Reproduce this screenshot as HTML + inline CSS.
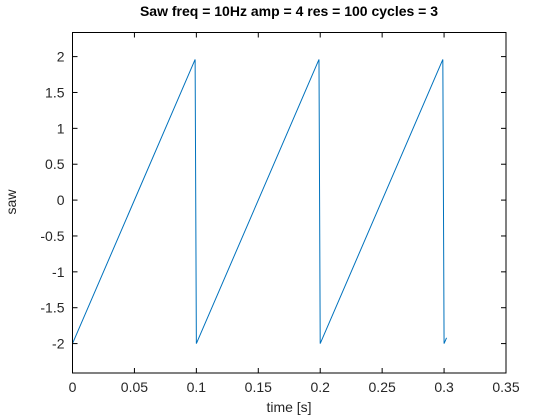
<!DOCTYPE html>
<html><head><meta charset="utf-8"><style>
html,body{margin:0;padding:0;background:#fff;}
svg{display:block;font-family:"Liberation Sans",sans-serif;}
</style></head><body>
<svg id="chart" width="560" height="420" viewBox="0 0 560 420" xmlns="http://www.w3.org/2000/svg">
<rect x="0" y="0" width="560" height="420" fill="#fff"/>
<text x="289" y="16" text-anchor="middle" font-size="14" font-weight="bold" fill="#000">Saw freq = 10Hz amp = 4 res = 100 cycles = 3</text>
<g id="ticks"></g>
<path id="series" fill="none" stroke="#0072bd" stroke-width="1"/>
<rect x="72.5" y="32.5" width="433.5" height="340.5" fill="none" stroke="#000" stroke-width="1"/>
<text x="289" y="412" text-anchor="middle" font-size="14" fill="#262626">time [s]</text>
<text x="0" y="0" transform="translate(16,202) rotate(-90)" text-anchor="middle" font-size="14" fill="#262626">saw</text>
</svg>
<script>
const times = [0, 0.099, 0.1, 0.199, 0.2, 0.299, 0.3, 0.302];
const values = [-2, 1.96, -2, 1.96, -2, 1.96, -2, -1.92];
const xTicks = [0, 0.05, 0.1, 0.15, 0.2, 0.25, 0.3, 0.35];
const xTickLabels = ["0", "0.05", "0.1", "0.15", "0.2", "0.25", "0.3", "0.35"];
const yTicks = [-2, -1.5, -1, -0.5, 0, 0.5, 1, 1.5, 2];
const yTickLabels = ["-2", "-1.5", "-1", "-0.5", "0", "0.5", "1", "1.5", "2"];

const L = 72.5, R = 506, T = 32.5, B = 373;
const X0 = 0, X1 = 0.35, Y0 = -2.41, Y1 = 2.336;
function sx(v){ return L + (v - X0) / (X1 - X0) * (R - L); }
function sy(v){ return B - (v - Y0) / (Y1 - Y0) * (B - T); }

const NS = "http://www.w3.org/2000/svg";
const g = document.getElementById("ticks");
function mk(tag, attrs){ const e = document.createElementNS(NS, tag); for (const k in attrs) e.setAttribute(k, attrs[k]); return e; }

xTicks.forEach((t, i) => {
  const x = sx(t);
  const a = mk("line", {x1:x, x2:x, y1:B, y2:B-5, stroke:"#000"});
  
  
  g.appendChild(a);
  const b = mk("line", {x1:x, x2:x, y1:T, y2:T+5, stroke:"#000"});
  
  
  g.appendChild(b);
  const tx = mk("text", {x:x, y:B+19, "text-anchor":"middle", "font-size":"14", fill:"#262626"});
  tx.textContent = xTickLabels[i];
  
  
  g.appendChild(tx);
});
yTicks.forEach((t, i) => {
  const y = sy(t);
  const a = mk("line", {x1:L, x2:L+5, y1:y, y2:y, stroke:"#000"});
  
  
  g.appendChild(a);
  const b = mk("line", {x1:R, x2:R-5, y1:y, y2:y, stroke:"#000"});
  
  
  g.appendChild(b);
  const tx = mk("text", {x:L-8, y:y+5, "text-anchor":"end", "font-size":"14", fill:"#262626"});
  tx.textContent = yTickLabels[i];
  
  
  g.appendChild(tx);
});
document.getElementById("series").setAttribute("d",
  times.map((t, i) => (i ? "L" : "M") + sx(t).toFixed(2) + "," + sy(values[i]).toFixed(2)).join(" "));
</script>
</body></html>
